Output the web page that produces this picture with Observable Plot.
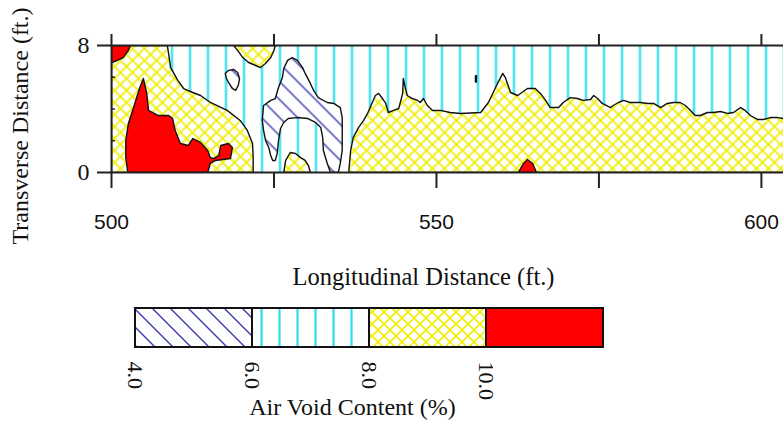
<!DOCTYPE html>
<html><head><meta charset="utf-8">
<script src="https://cdn.jsdelivr.net/npm/d3@7"></script>
<script src="https://cdn.jsdelivr.net/npm/@observablehq/plot@0.6"></script>
<style>
html,body{margin:0;padding:0;background:#fff;}
#chart{width:783px;height:432px;overflow:hidden;background:#fff;}
#chart svg{display:block;}
</style></head><body>
<svg width="0" height="0" style="position:absolute">
<defs>
<pattern id="pCyan" patternUnits="userSpaceOnUse" width="18" height="18">
<rect width="18" height="18" fill="#fff"/>
<line x1="9.5" y1="-1" x2="9.5" y2="19" stroke="#2fdcee" stroke-width="2.2"/>
</pattern>
<pattern id="pYel" patternUnits="userSpaceOnUse" width="12" height="12">
<rect width="12" height="12" fill="#fff"/>
<path d="M-1,-1L13,13M13,-1L-1,13" stroke="#f0ee10" stroke-width="1.9"/>
</pattern>
<pattern id="pBlue" patternUnits="userSpaceOnUse" width="18" height="18">
<rect width="18" height="18" fill="#fff"/>
<path d="M-1,-1L19,19M-5,13L5,23M13,-5L23,5" stroke="#3a3ab0" stroke-width="1.4"/>
</pattern>
</defs>
</svg>
<div id="chart"></div>
<script>
// ---- axis / legend data ----
const xTicks = [500, 525, 550, 575, 600];
const xLabels = [500, 550, 600];
const yTicks = [0, 8];
const yMinor = [2, 4, 6];
const legendBreaks = [4, 6, 8, 10, 12];
const legendLabels = ["4.0", "6.0", "8.0", "10.0"];
const legendFills = ["url(#pBlue)", "url(#pCyan)", "url(#pYel)", "#ff0000"];

// ---- contour regions [longitudinal ft, transverse ft] ----
// 8-10 % (yellow)
const yellowLeft = [[500,0],[500,8],[508.6,8],[509.1,6.61],[510.2,5.80],[511.1,5.29],[512.5,5.04],[513.7,4.85],[515.2,4.41],[517.8,3.91],[519.8,3.28],[520.9,2.65],[521.7,1.83],[521.8,0.94],[521.8,0]];
const yellowTop = [[518.8,8],[519.4,7.69],[520.2,7.24],[521.1,6.93],[522.2,6.74],[522.9,6.61],[523.7,6.87],[524.5,7.24],[525.0,7.69],[525.2,8]];
const yellowRight = [[536.5,0],[536.8,1.39],[537.2,2.2],[538.0,2.83],[538.8,3.28],[539.4,3.72],[539.8,4.09],[540.6,4.85],[541.1,4.98],[541.7,4.66],[542.2,4.35],[542.6,3.78],[543.4,3.91],[544.2,4.03],[544.8,4.98],[544.9,5.92],[545.2,5.35],[545.5,4.85],[546.3,4.66],[547.1,4.54],[547.5,4.41],[548.0,4.66],[548.6,4.22],[549.4,3.91],[550.6,3.91],[552.1,3.78],[553.7,3.72],[556.8,3.78],[558.0,4.41],[559.4,5.61],[560.2,6.24],[560.6,5.98],[561.4,5.04],[562.5,4.85],[564.0,5.29],[565.2,5.29],[566.0,4.98],[566.8,4.54],[567.5,4.09],[568.8,4.09],[569.5,4.41],[570.6,4.72],[571.7,4.66],[572.6,4.54],[573.7,4.60],[574.2,4.85],[574.8,4.66],[575.5,4.35],[576.8,4.09],[577.2,4.22],[578.0,4.41],[578.8,4.54],[579.8,4.41],[581.4,4.41],[582.5,4.35],[583.4,4.35],[584.5,4.09],[585.5,4.35],[586.5,4.41],[587.5,4.41],[588.3,4.22],[589.1,3.91],[589.8,3.59],[590.6,3.59],[591.7,3.78],[592.6,3.78],[593.7,3.84],[594.8,3.72],[595.7,3.78],[596.8,4.09],[597.5,3.91],[598.3,3.59],[599.4,3.34],[600.3,3.34],[601.4,3.46],[602.5,3.46],[603.4,3.40],[606,3.40],[606,0]];
const yellowInner = [[526.5,0],[526.8,0.76],[527.5,1.26],[528.3,1.20],[529.1,0.94],[529.8,0.76],[530.3,0.44],[530.6,0]];
// > 10 % (red)
const redCorner = [[500,8],[502.9,8],[502.6,7.69],[501.8,7.24],[500.9,7.06],[500.1,6.93],[500,6.93]];
const redMain = [[502.5,0],[502.2,0.94],[502.2,2.02],[502.6,3.09],[503.4,4.09],[504.3,5.29],[504.9,5.92],[505.4,5.04],[505.7,3.91],[507.2,3.59],[508.8,3.59],[509.4,3.40],[509.8,2.65],[510.6,1.83],[511.8,1.70],[512.5,2.14],[513.7,1.89],[514.8,1.39],[515.2,0.94],[515.7,0.88],[516.5,1.07],[516.8,1.70],[518.0,1.83],[518.6,1.57],[518.3,0.88],[516.0,0.76],[515.2,0.57],[514.8,0]];
const redSmall = [[562.6,0],[563.4,0.57],[564.0,0.82],[564.8,0.57],[565.4,0]];
// 4-6 % (blue)
const blueMain = [[523.4,4.22],[524.5,4.54],[525.2,4.66],[525.7,5.35],[526.3,5.98],[526.5,6.55],[527.1,7.06],[527.8,7.24],[528.6,7.06],[529.4,6.61],[529.8,6.24],[530.6,5.61],[531.1,5.17],[531.8,4.72],[533.2,4.41],[534.2,4.35],[535.2,4.09],[535.5,3.46],[535.5,2.65],[535.5,1.39],[535.2,0.57],[534.9,0],[533.7,0],[533.2,0.57],[532.6,1.39],[532.5,2.20],[532.2,2.83],[531.4,3.15],[530.2,3.40],[528.6,3.46],[527.2,3.40],[526.5,3.15],[526.0,2.77],[525.7,2.02],[525.5,1.20],[525.2,0.76],[524.8,0.76],[524.5,1.07],[524.2,1.57],[523.7,2.02],[523.4,2.65],[523.2,3.28]];
const blueSpot = [[517.5,6.24],[518.0,6.43],[518.8,6.49],[519.4,6.30],[519.7,5.92],[519.5,5.48],[519.1,5.17],[518.6,5.29],[518.0,5.67],[517.7,5.92]];
const tinySpot = [[556.0,6.1],[556.15,6.1],[556.15,5.7],[556.0,5.7]];

const serif = "'Liberation Serif','Times New Roman',serif";
const sans = "'Liberation Sans',Arial,sans-serif";

const region = (poly, fill) => Plot.line(poly, {
  x: d => d[0], y: d => d[1], curve: "linear-closed",
  fill, stroke: "#111", strokeWidth: 1.4, clip: true
});

const main = Plot.plot({
  width: 783, height: 300,
  marginTop: 45, marginBottom: 128, marginLeft: 111, marginRight: 0,
  x: {domain: [500, 603.4]},
  y: {domain: [0, 8]},
  style: {background: "white", overflow: "visible"},
  marks: [
    Plot.frame({fill: "url(#pCyan)", stroke: null}),
    region(yellowLeft, "url(#pYel)"),
    region(yellowTop, "url(#pYel)"),
    region(yellowRight, "url(#pYel)"),
    region(redCorner, "#ff0000"),
    region(redMain, "#ff0000"),
    region(redSmall, "#ff0000"),
    region(blueMain, "url(#pBlue)"),
    region(yellowInner, "url(#pYel)"),
    region(blueSpot, "url(#pBlue)"),
    region(tinySpot, "url(#pBlue)"),
    Plot.ruleY(yTicks, {stroke: "#222", strokeWidth: 2}),
    Plot.ruleX([500], {stroke: "#222", strokeWidth: 2}),
    Plot.axisX({anchor: "top", ticks: xTicks, tickSize: 12, tickFormat: () => "", label: null, stroke: "#222", strokeWidth: 2}),
    Plot.axisX({anchor: "bottom", ticks: xTicks, tickSize: 16, tickPadding: 26,
      tickFormat: d => xLabels.includes(d) ? String(d) : "", label: null,
      fontSize: 21, fontFamily: sans, stroke: "#222", strokeWidth: 2, fill: "#111"}),
    Plot.axisY({anchor: "left", ticks: yTicks, tickSize: 14, tickPadding: 8, label: null,
      fontSize: 24, fontFamily: serif, stroke: "#222", strokeWidth: 2, fill: "#111"}),
    Plot.axisY({anchor: "left", ticks: yMinor, tickSize: 4, tickFormat: () => "", label: null, dx: 4, stroke: "#222", strokeWidth: 1.5}),
    Plot.text(["Longitudinal Distance (ft.)"], {text: d => d, frameAnchor: "bottom", textAnchor: "middle", dy: 112, dx: -24, fontSize: 24.5, fontFamily: serif, fill: "#111"}),
    Plot.text(["Transverse Distance (ft.)"], {text: d => d, frameAnchor: "left", textAnchor: "middle", rotate: -90, dx: -91, dy: 17, fontSize: 24, fontFamily: serif, fill: "#111"})
  ]
});

const legend = Plot.plot({
  width: 783, height: 132,
  marginTop: 8, marginBottom: 85, marginLeft: 135, marginRight: 180,
  x: {domain: [legendBreaks[0], legendBreaks[legendBreaks.length - 1]]},
  style: {background: "white", overflow: "visible"},
  marks: [
    ...legendFills.map((f, i) => Plot.rect([[legendBreaks[i], legendBreaks[i + 1]]], {
      x1: d => d[0], x2: d => d[1], fill: f, stroke: "#111", strokeWidth: 2
    })),
    Plot.axisX({ticks: legendBreaks.slice(0, 4), tickFormat: d => legendLabels[legendBreaks.indexOf(d)],
      tickRotate: 90, tickSize: 0, tickPadding: 14, fontSize: 22, fontFamily: serif, label: null, fill: "#111"}),
    Plot.text(["Air Void Content (%)"], {text: d => d, frameAnchor: "bottom", textAnchor: "middle", dy: 67, dx: -17, fontSize: 24, fontFamily: serif, fill: "#111"})
  ]
});

const chart = document.getElementById("chart");
chart.appendChild(main);
chart.appendChild(legend);
</script>
</body></html>
